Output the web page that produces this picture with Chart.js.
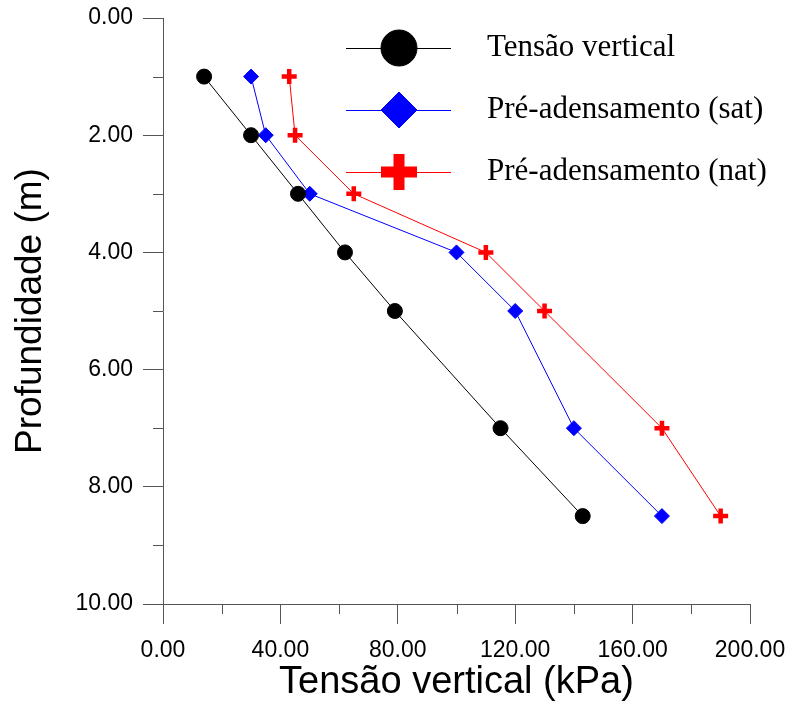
<!DOCTYPE html>
<html>
<head>
<meta charset="utf-8">
<script src="https://cdn.jsdelivr.net/npm/chart.js@4.4.1/dist/chart.umd.min.js"></script>
<style>
  html, body { margin: 0; padding: 0; background: #fff; }
  #wrap { width: 790px; height: 702px; }
</style>
</head>
<body>
<div id="wrap"><canvas id="chart" width="790" height="702"></canvas></div>
<script>
// profundidade (m)
const depths = [1, 2, 3, 4, 5, 7, 8.5];
// tensões (kPa)
const tensaoVertical = [14, 30, 46, 62, 79, 115, 143];
const preAdensSat = [30, 35, 50, 100, 120, 140, 170];
const preAdensNat = [43, 45, 65, 110, 130, 170, 190];

const seriesNames = ['Tensão vertical', 'Pré-adensamento (sat)', 'Pré-adensamento (nat)'];
const xTicks = [0, 40, 80, 120, 160, 200];
const yTicks = [0, 2, 4, 6, 8, 10];

const toPoints = vals => vals.map((v, i) => ({ x: v, y: depths[i] }));

const axisColor = '#555';

// minor ticks + custom legend
const extras = {
  id: 'extras',
  afterDraw(chart) {
    const ctx = chart.ctx;
    const xs = chart.scales.x, ys = chart.scales.y;
    ctx.save();
    ctx.strokeStyle = axisColor;
    ctx.lineWidth = 1;
    xs.ticks.forEach(t => {
      if (xTicks.includes(t.value)) return;
      const px = Math.round(xs.getPixelForValue(t.value)) + 0.5;
      ctx.beginPath();
      ctx.moveTo(px, xs.top);
      ctx.lineTo(px, xs.top + 10);
      ctx.stroke();
    });
    ys.ticks.forEach(t => {
      if (yTicks.includes(t.value)) return;
      const py = Math.round(ys.getPixelForValue(t.value)) + 0.5;
      ctx.beginPath();
      ctx.moveTo(ys.right, py);
      ctx.lineTo(ys.right - 10, py);
      ctx.stroke();
    });

    // legend
    const rows = [48, 110, 172];
    const big = [
      { pointStyle: 'circle', radius: 18, borderWidth: 1 },
      { pointStyle: 'rectRot', radius: 18, borderWidth: 1 },
      { pointStyle: 'cross', radius: 18, borderWidth: 11 }
    ];
    chart.data.datasets.forEach((ds, i) => {
      const y = rows[i];
      ctx.strokeStyle = ds.borderColor;
      ctx.lineWidth = 1;
      ctx.beginPath();
      ctx.moveTo(346, y + 0.5);
      ctx.lineTo(451, y + 0.5);
      ctx.stroke();
      ctx.fillStyle = ds.pointBackgroundColor;
      ctx.strokeStyle = ds.pointBorderColor;
      ctx.lineWidth = big[i].borderWidth;
      Chart.helpers.drawPoint(ctx, { pointStyle: big[i].pointStyle, radius: big[i].radius, rotation: 0, borderWidth: big[i].borderWidth }, 399, y);
      ctx.fillStyle = '#000';
      ctx.font = '31px "Liberation Serif", "Times New Roman", serif';
      ctx.textBaseline = 'middle';
      ctx.textAlign = 'left';
      ctx.fillText(seriesNames[i], 487, y);
    });
    ctx.restore();
  }
};

const noOverhang = s => {
  s.paddingLeft = 0; s.paddingRight = 0; s.paddingTop = 0; s.paddingBottom = 0;
};

new Chart(document.getElementById('chart'), {
  type: 'scatter',
  data: {
    datasets: [
      {
        label: seriesNames[0],
        data: toPoints(tensaoVertical),
        showLine: true,
        borderColor: '#000',
        borderWidth: 1,
        pointStyle: 'circle',
        pointRadius: 7.5,
        pointBackgroundColor: '#000',
        pointBorderColor: '#000',
        pointBorderWidth: 1
      },
      {
        label: seriesNames[1],
        data: toPoints(preAdensSat),
        showLine: true,
        borderColor: '#0000ff',
        borderWidth: 1,
        pointStyle: 'rectRot',
        pointRadius: 7.5,
        pointBackgroundColor: '#0000ff',
        pointBorderColor: '#0000ff',
        pointBorderWidth: 1
      },
      {
        label: seriesNames[2],
        data: toPoints(preAdensNat),
        showLine: true,
        borderColor: '#ff0000',
        borderWidth: 1,
        pointStyle: 'cross',
        pointRadius: 7.5,
        pointBackgroundColor: '#ff0000',
        pointBorderColor: '#ff0000',
        pointBorderWidth: 4.5
      }
    ]
  },
  options: {
    responsive: false,
    animation: false,
    layout: { padding: { top: 18, right: 40, left: 0, bottom: 0 } },
    plugins: { legend: { display: false }, tooltip: { enabled: false } },
    scales: {
      x: {
        type: 'linear',
        min: 0,
        max: 200,
        afterBuildTicks: s => { s.ticks = [0,20,40,60,80,100,120,140,160,180,200].map(v => ({ value: v })); },
        afterFit: s => { s.height = 98; noOverhang(s); },
        border: { display: true, color: axisColor, width: 1 },
        grid: {
          drawOnChartArea: false,
          drawTicks: true,
          tickLength: 20,
          color: c => (c.tick && xTicks.includes(c.tick.value)) ? axisColor : 'rgba(0,0,0,0)'
        },
        ticks: {
          autoSkip: false,
          maxRotation: 0,
          padding: 13,
          color: '#000',
          font: { family: '"Liberation Sans", Arial, sans-serif', size: 23 },
          callback: v => xTicks.includes(v) ? v.toFixed(2) : ''
        },
        title: {
          display: true,
          text: 'Tensão vertical (kPa)',
          color: '#000',
          font: { family: '"Liberation Sans", Arial, sans-serif', size: 38 },
          padding: { top: 0, bottom: -3 }
        }
      },
      y: {
        type: 'linear',
        reverse: true,
        min: 0,
        max: 10,
        afterBuildTicks: s => { s.ticks = [0,1,2,3,4,5,6,7,8,9,10].map(v => ({ value: v })); },
        afterFit: s => { s.width = 163; noOverhang(s); },
        border: { display: true, color: axisColor, width: 1 },
        grid: {
          drawOnChartArea: false,
          drawTicks: true,
          tickLength: 20,
          color: c => (c.tick && yTicks.includes(c.tick.value)) ? axisColor : 'rgba(0,0,0,0)'
        },
        ticks: {
          autoSkip: false,
          padding: 10,
          color: '#000',
          font: { family: '"Liberation Sans", Arial, sans-serif', size: 23 },
          callback: v => yTicks.includes(v) ? v.toFixed(2) : ''
        },
        title: {
          display: true,
          text: 'Profundidade (m)',
          color: '#000',
          font: { family: '"Liberation Sans", Arial, sans-serif', size: 37 },
          padding: { top: 9, bottom: 0 }
        }
      }
    }
  },
  plugins: [extras]
});
</script>
</body>
</html>
